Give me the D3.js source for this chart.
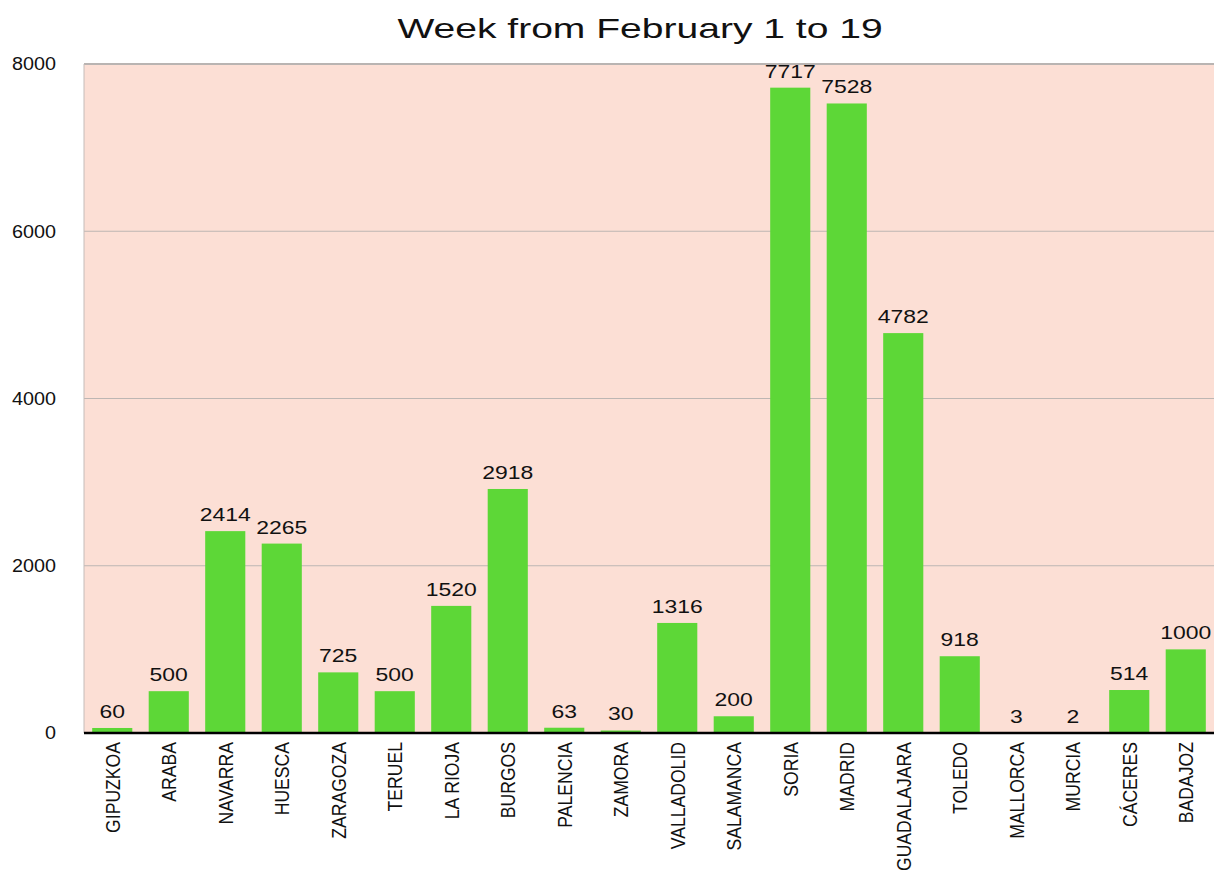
<!DOCTYPE html>
<html><head><meta charset="utf-8">
<script src="https://cdn.jsdelivr.net/npm/d3@7"></script>
<style>body{margin:0;background:#fff;} svg{display:block;} text{font-family:"Liberation Sans",Arial,Helvetica,sans-serif;fill:#111;}</style>
</head><body>
<svg id="chart" width="1221" height="873"></svg>
<script>
const title = "Week from February 1 to 19";
const categories = ["GIPUZKOA","ARABA","NAVARRA","HUESCA","ZARAGOZA","TERUEL","LA RIOJA","BURGOS","PALENCIA","ZAMORA","VALLADOLID","SALAMANCA","SORIA","MADRID","GUADALAJARA","TOLEDO","MALLORCA","MURCIA","CÁCERES","BADAJOZ"];
const values = [60,500,2414,2265,725,500,1520,2918,63,30,1316,200,7717,7528,4782,918,3,2,514,1000];
const yTicks = [0,2000,4000,6000,8000];

const svg = d3.select("#chart");
const m = {left:84, right:1214, top:64, bottom:733};
const x = d3.scaleBand().domain(categories).range([m.left,m.right]).paddingInner(0.29).paddingOuter(0.145);
const y = d3.scaleLinear().domain([0,8000]).range([m.bottom,m.top]);

svg.append("rect").attr("x",m.left).attr("y",m.top).attr("width",m.right-m.left).attr("height",m.bottom-m.top).attr("fill","#fcdfd5");

// gridlines
svg.append("g").selectAll("line").data(yTicks.filter(d=>d>0)).join("line")
  .attr("x1",m.left).attr("x2",m.right).attr("y1",d=>y(d)).attr("y2",d=>y(d))
  .attr("stroke",d=>d===8000?"#b9b4b2":"#bdb6b3").attr("stroke-width",d=>d===8000?2:1);
svg.append("line").attr("x1",m.left).attr("x2",m.left).attr("y1",m.top).attr("y2",m.bottom).attr("stroke","#c4bcb9").attr("stroke-width",1);

// y tick labels
svg.append("g").selectAll("text").data(yTicks).join("text")
  .attr("transform",d=>`translate(56,${y(d)}) scale(1.13,1)`)
  .attr("text-anchor","end").attr("dy","0.36em").attr("font-size",17.5).text(d=>d);

// bars
svg.append("g").selectAll("rect").data(values).join("rect")
  .attr("x",(d,i)=>x(categories[i])).attr("width",x.bandwidth())
  .attr("y",d=>y(d)).attr("height",d=>y(0)-y(d)).attr("fill","#5dd737");

// value labels
svg.append("g").selectAll("text").data(values).join("text")
  .attr("transform",(d,i)=>`translate(${x(categories[i])+x.bandwidth()/2},${y(d)-10}) scale(1.22,1)`)
  .attr("text-anchor","middle").attr("font-size",18.8).text(d=>d);

// x axis line
svg.append("line").attr("x1",m.left).attr("x2",m.right).attr("y1",m.bottom).attr("y2",m.bottom).attr("stroke","#000").attr("stroke-width",2.5);

// category labels
svg.append("g").selectAll("text").data(categories).join("text")
  .attr("transform",d=>`translate(${x(d)+x.bandwidth()/2},742) scale(1.15,1) rotate(-90)`)
  .attr("text-anchor","end").attr("dy","0.36em").attr("font-size",17.6).text(d=>d);

// title
svg.append("text").attr("transform","translate(640,38) scale(1.37,1)").attr("text-anchor","middle")
  .attr("font-size",28.5).text(title);
</script>
</body></html>
